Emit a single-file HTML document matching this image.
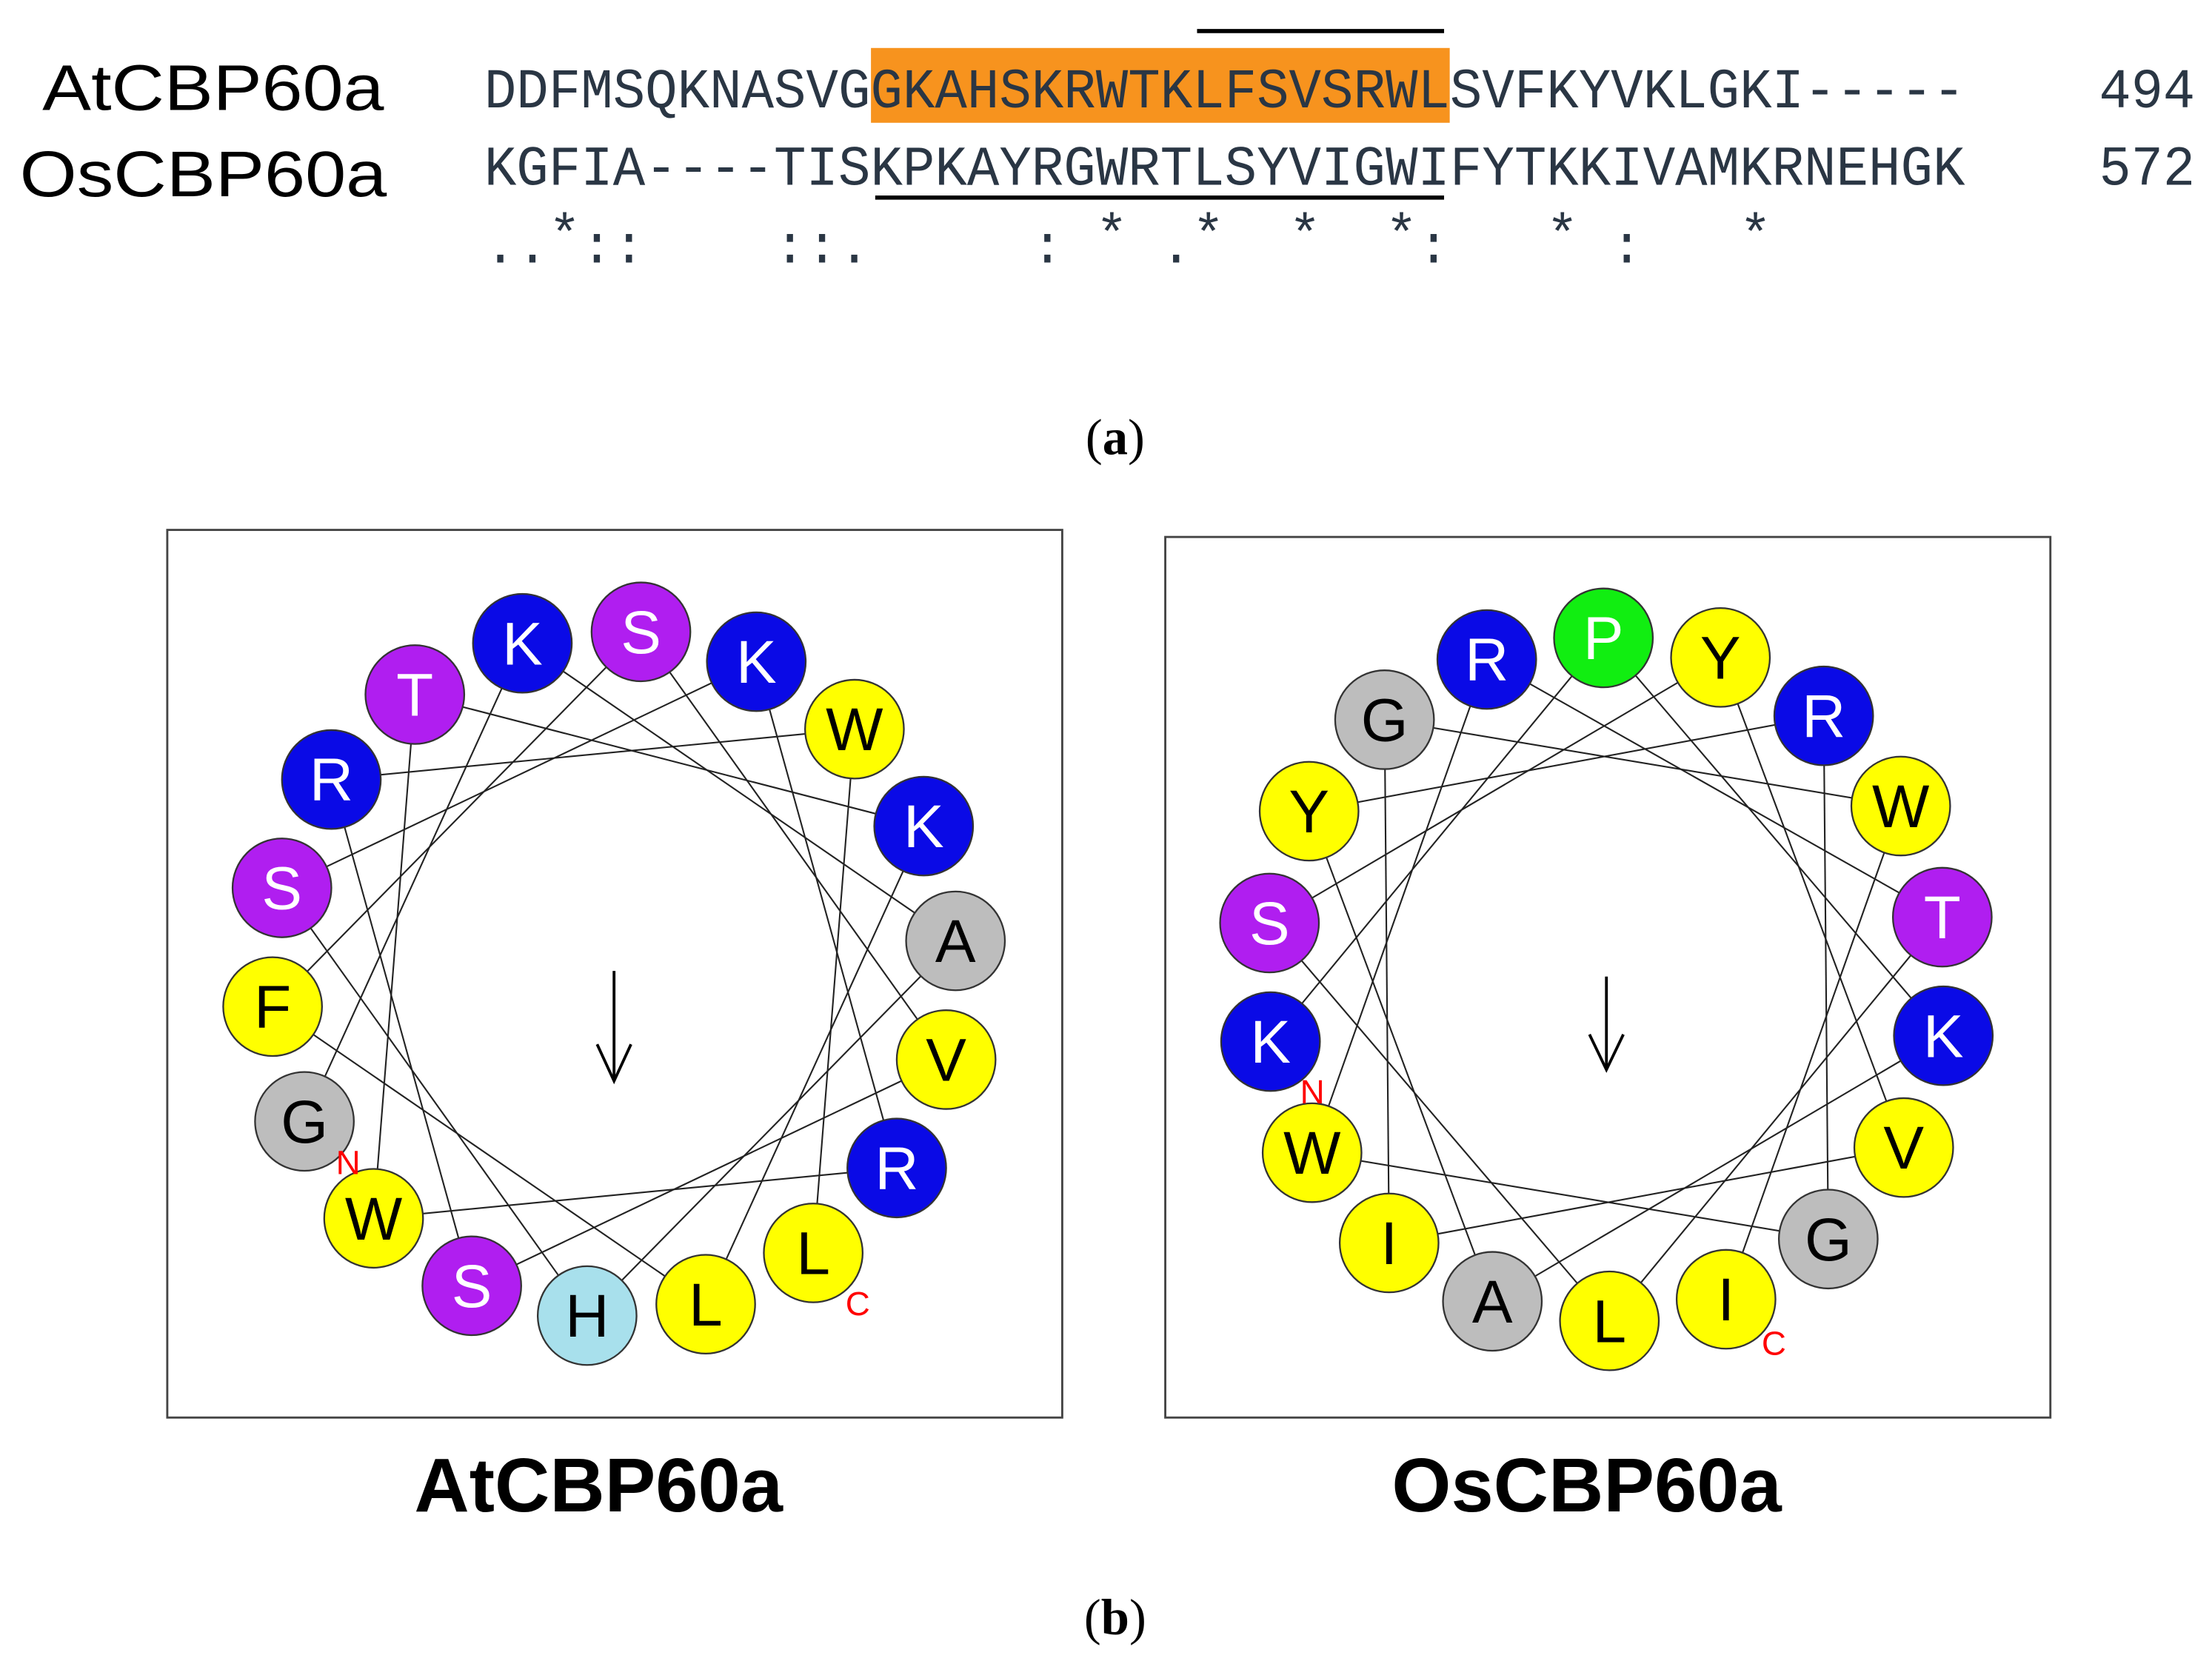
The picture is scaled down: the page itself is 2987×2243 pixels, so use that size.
<!DOCTYPE html>
<html><head><meta charset="utf-8"><style>
html,body{margin:0;padding:0;background:#fff;}
svg{display:block;}
</style></head><body>
<svg id="s" width="2987" height="2243" viewBox="0 0 1567 1177" preserveAspectRatio="none" xmlns="http://www.w3.org/2000/svg">
<rect width="1567" height="1177" fill="#fff"/>
<rect x="617" y="34" width="410" height="53" fill="#f7931e"/>
<line x1="848" y1="22" x2="1023" y2="22" stroke="#000" stroke-width="3"/>
<line x1="620" y1="140" x2="1023" y2="140" stroke="#000" stroke-width="3"/>
<g font-family="Liberation Sans, sans-serif" font-size="46" fill="#000">
<text x="30" y="78" textLength="242" lengthAdjust="spacingAndGlyphs">AtCBP60a</text>
<text x="14" y="139" textLength="260" lengthAdjust="spacingAndGlyphs">OsCBP60a</text>
</g>
<g font-family="Liberation Mono, DejaVu Sans Mono, monospace" font-size="40" fill="#2a3644">
<text x="343" y="76" textLength="1049" lengthAdjust="spacingAndGlyphs">DDFMSQKNASVGGKAHSKRWTKLFSVSRWLSVFKYVKLGKI-----</text>
<text x="343" y="131" textLength="1049" lengthAdjust="spacingAndGlyphs">KGFIA----TISKPKAYRGWRTLSYVIGWIFYTKKIVAMKRNEHGK</text>
<text x="1487" y="76" textLength="68" lengthAdjust="spacingAndGlyphs">494</text>
<text x="1487" y="131" textLength="68" lengthAdjust="spacingAndGlyphs">572</text>
</g>
<g id="cons" font-family="Liberation Mono, DejaVu Sans Mono, monospace" font-size="38" fill="#2a3644" text-anchor="middle"></g>
<g font-family="Liberation Serif, serif" font-size="36" fill="#000" text-anchor="middle">
<text x="790" y="322">(<tspan font-weight="bold">a</tspan>)</text>
<text x="790" y="1158">(<tspan font-weight="bold">b</tspan>)</text>
</g>
<rect x="118.5" y="375.5" width="634" height="629" fill="none" stroke="#444" stroke-width="1.5"/>
<rect x="825.5" y="380.5" width="627" height="624" fill="none" stroke="#444" stroke-width="1.5"/>
<g font-family="Liberation Sans, sans-serif" font-weight="bold" font-size="54" fill="#000" text-anchor="middle">
<text x="424" y="1071">AtCBP60a</text>
<text x="1124" y="1071">OsCBP60a</text>
</g>
<g id="w1"></g>
<g id="w2"></g>
<g font-family="Liberation Sans, sans-serif" font-size="24" fill="#f00">
<text x="238" y="832">N</text>
<text x="599" y="932">C</text>
<text x="921" y="782">N</text>
<text x="1248" y="960">C</text>
</g>
<g stroke="#000" stroke-width="2" fill="none">
<line x1="435" y1="688" x2="435" y2="766"/><polyline points="423,740 435,766 447,740"/>
<line x1="1138" y1="692" x2="1138" y2="758"/><polyline points="1126,733 1138,758 1150,733"/>
</g>
</svg>
<script>
(function(){
var NS="http://www.w3.org/2000/svg";
var cons=[[0,"."],[1,"."],[2,"*"],[3,":"],[4,":"],[9,":"],[10,":"],[11,"."],[17,":"],[19,"*"],[21,"."],[22,"*"],[25,"*"],[28,"*"],[29,":"],[33,"*"],[35,":"],[39,"*"]];
var cg=document.getElementById("cons");
cons.forEach(function(c){var t=document.createElementNS(NS,"text");
  t.setAttribute("x",343+22.8*c[0]+11.4);t.setAttribute("y",c[1]=="*"?178:186);t.textContent=c[1];cg.appendChild(t);});
var col={K:["#0a0ae6","#fff"],R:["#0a0ae6","#fff"],S:["#b01ef0","#fff"],T:["#b01ef0","#fff"],
W:["#ffff00","#000"],F:["#ffff00","#000"],V:["#ffff00","#000"],L:["#ffff00","#000"],Y:["#ffff00","#000"],I:["#ffff00","#000"],
A:["#bdbdbd","#000"],G:["#bdbdbd","#000"],H:["#a8e0ec","#000"],P:["#11ee11","#fff"]};
function wheel(id,seq,cx,cy,R,start){
  var g=document.getElementById(id),pts=[];
  for(var i=0;i<seq.length;i++){var a=(start+100*i)*Math.PI/180;pts.push([cx+R*Math.sin(a),cy-R*Math.cos(a)]);}
  for(var i=0;i<seq.length-1;i++){var l=document.createElementNS(NS,"line");
    l.setAttribute("x1",pts[i][0]);l.setAttribute("y1",pts[i][1]);l.setAttribute("x2",pts[i+1][0]);l.setAttribute("y2",pts[i+1][1]);
    l.setAttribute("stroke","#222");l.setAttribute("stroke-width","1.1");g.appendChild(l);}
  for(var i=0;i<seq.length;i++){var c=document.createElementNS(NS,"circle"),ch=seq[i];
    c.setAttribute("cx",pts[i][0]);c.setAttribute("cy",pts[i][1]);c.setAttribute("r","35");
    c.setAttribute("fill",col[ch][0]);c.setAttribute("stroke","#333");c.setAttribute("stroke-width","1.2");g.appendChild(c);
    var t=document.createElementNS(NS,"text");t.setAttribute("x",pts[i][0]);t.setAttribute("y",pts[i][1]+15);
    t.setAttribute("text-anchor","middle");t.setAttribute("font-family","Liberation Sans, sans-serif");t.setAttribute("font-size","43");
    t.setAttribute("fill",col[ch][1]);t.textContent=ch;g.appendChild(t);}
}
wheel("w1","GKAHSKRWTKLFSVSRWL",435,690,243,244.5);
wheel("w2","KPKAYRGWRTLSYVIGWI",1138,694,242,259.5);
})();
</script>
</body></html>
